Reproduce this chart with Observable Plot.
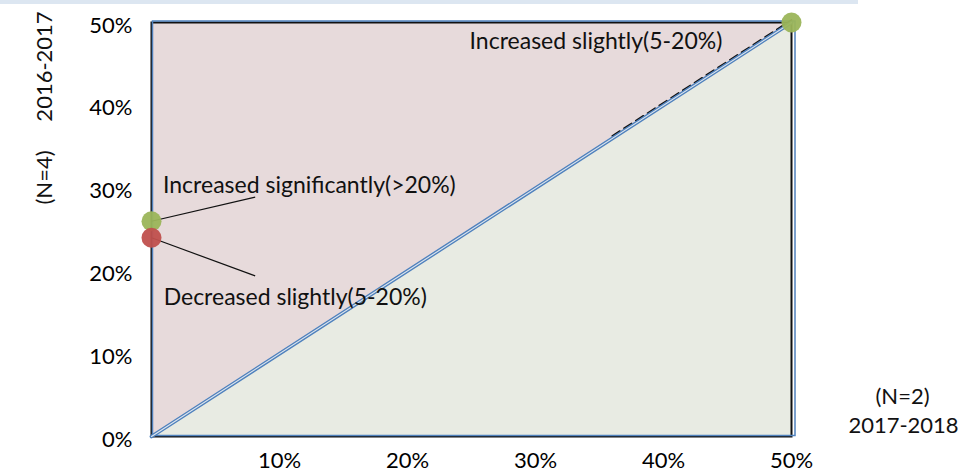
<!DOCTYPE html>
<html><head><meta charset="utf-8">
<script src="https://cdn.jsdelivr.net/npm/d3@7"></script>
<script src="https://cdn.jsdelivr.net/npm/@observablehq/plot@0.6"></script>
<style>
body{margin:0;background:#fff;}
#wrap{position:relative;width:966px;height:472px;}
#band{position:absolute;left:0;top:0;width:858px;height:4px;background:#dce6f1;}
</style></head><body>
<div id="wrap"><div id="band"></div></div>
<script>
const xTicks = [10, 20, 30, 40, 50];
const yTicks = [0, 10, 20, 30, 40, 50];
const diagonal = [0, 50];
const dashedSegment = [36, 50];
const pointX = [0, 0, 50];
const pointY = [26, 24, 50];
const pointColor = ["#9bb55a", "#c0504d", "#9bb55a"];
const pointLabel = ["Increased significantly(>20%)", "Decreased slightly(5-20%)", "Increased slightly(5-20%)"];
// annotation anchor positions (data units)
const labelX = [0.9, 0.95, 44.6];
const labelY = [30.3, 16.8, 47.7];
const labelAnchor = ["start", "start", "end"];
const leaderX = [8.1, 8.1, null];
const leaderY = [28.9, 19.4, null];

const points = pointX.map((x, i) => ({x, y: pointY[i], color: pointColor[i], label: pointLabel[i],
  lx: labelX[i], ly: labelY[i], anchor: labelAnchor[i], ex: leaderX[i], ey: leaderY[i]}));
const leaders = points.filter(d => d.ex != null);
const diag = diagonal.map(d => ({v: d}));
const dashDiag = dashedSegment.map(d => ({v: d}));

const fmt = d => d + "%";
const txt = {fontSize: 23, fill: "#111"};
const chart = Plot.plot({
  width: 966, height: 472,
  marginLeft: 151, marginRight: 175, marginTop: 22, marginBottom: 36,
  x: {domain: [0, 50]},
  y: {domain: [0, 50]},
  style: {fontFamily: "Lato", fontSize: "22px", color: "#000", background: "transparent"},
  marks: [
    Plot.areaY(diag, {x: "v", y1: "v", y2: 50, fill: "#e7dadb"}),
    Plot.areaY(diag, {x: "v", y1: 0, y2: "v", fill: "#e8ebe3"}),
    Plot.frame({stroke: "#111", strokeWidth: 2}),
    Plot.frame({stroke: "#4f81bd", strokeWidth: 1.5, insetTop: -1.5, insetRight: -3.5, insetBottom: 1, insetLeft: 1}),
    Plot.line(dashDiag, {x: "v", y: "v", dy: -2.5, stroke: "#111", strokeWidth: 1.7, strokeDasharray: "9,5"}),
    Plot.line(diag, {x: "v", y: "v", stroke: "#4f81bd", strokeWidth: 3.8}),
    Plot.line(diag, {x: "v", y: "v", stroke: "#dfe6ee", strokeWidth: 1.1}),
    Plot.link(leaders, {x1: "x", y1: "y", x2: "ex", y2: "ey", stroke: "#111", strokeWidth: 1.2}),
    Plot.dot(points, {x: "x", y: "y", r: 10, fill: "color", fillOpacity: 0.95}),
    Plot.text(points.filter(d => d.anchor === "start"), {x: "lx", y: "ly", text: "label", textAnchor: "start", ...txt}),
    Plot.text(points.filter(d => d.anchor === "end"), {x: "lx", y: "ly", text: "label", textAnchor: "end", ...txt}),
    Plot.axisX({ticks: xTicks, tickFormat: fmt, tickSize: 0, tickPadding: 16, label: null, fontSize: 22}),
    Plot.axisY({ticks: yTicks, tickFormat: fmt, tickSize: 0, tickPadding: 19, label: null, fontSize: 22, dy: 3}),
    Plot.text(["2016-2017"], {frameAnchor: "top-left", textAnchor: "middle", dx: -115, dy: 44, rotate: -90, fontSize: 22, fill: "#111"}),
    Plot.text(["(N=4)"], {frameAnchor: "top-left", textAnchor: "middle", dx: -115, dy: 155, rotate: -90, fontSize: 22, fill: "#111"}),
    Plot.text(["(N=2)"], {frameAnchor: "bottom-right", textAnchor: "middle", dx: 111, dy: -33, fontSize: 22, fill: "#111"}),
    Plot.text(["2017-2018"], {frameAnchor: "bottom-right", textAnchor: "middle", dx: 112, dy: -4, fontSize: 22, fill: "#111"})
  ]
});
chart.style.position = "absolute";
chart.style.left = "0";
chart.style.top = "0";
document.getElementById("wrap").appendChild(chart);
</script>
</body></html>
